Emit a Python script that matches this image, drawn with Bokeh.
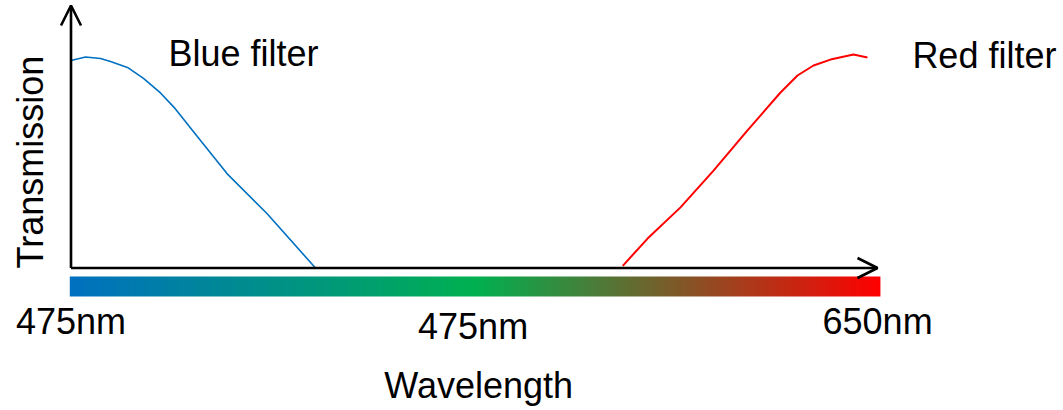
from bokeh.plotting import figure
from bokeh.models import Range1d, Arrow, OpenHead
from bokeh.core.properties import value
from bokeh.embed import file_html
from bokeh.resources import INLINE
import numpy as np

# ---- data (position along wavelength axis 0..100, transmission 0..100) ----
blue_x = [0, 1.79, 3.65, 4.88, 6.98, 8.96, 11.06, 12.71, 16.01, 19.31, 24.25, 30.22]
blue_y = [95.2, 96.8, 96.1, 94.7, 92.0, 87.0, 80.3, 73.8, 58.5, 43.2, 24.9, 0]
red_x = [68.2, 71.27, 75.34, 79.42, 83.62, 87.70, 89.80, 91.78, 93.88, 96.72, 98.45]
red_y = [1.0, 13.5, 27.8, 44.7, 63.1, 80.5, 88.3, 92.9, 95.6, 97.9, 96.6]

tick_pos = [0, 49.7, 99.7]
tick_labels = ["475nm", "475nm", "650nm"]
gradient_stops = [0, 50, 100]
gradient_colors = ["#0070C0", "#00B050", "#FF0000"]

W, H = 1063, 410
p = figure(width=W, height=H, output_backend="svg", toolbar_location=None,
           x_range=Range1d(-8.714, 122.68), y_range=Range1d(-65.37, 122.71),
           min_border=0, min_border_left=0, min_border_right=0,
           min_border_top=0, min_border_bottom=0)
p.axis.visible = False
p.grid.visible = False
p.outline_line_color = None
p.background_fill_color = "white"
p.border_fill_color = "white"

FONT = value("Liberation Sans")

# gradient bar (interpolated colour ramp drawn as an RGBA image)
def hex2rgb(h):
    h = h.lstrip("#")
    return [int(h[i:i + 2], 16) for i in (0, 2, 4)]

n = 800
pos = np.linspace(gradient_stops[0], gradient_stops[-1], n)
rgbs = np.array([hex2rgb(c) for c in gradient_colors], dtype=float)
img = np.empty((1, n), dtype=np.uint32)
view = img.view(dtype=np.uint8).reshape((1, n, 4))
for k in range(3):
    view[0, :, k] = np.round(np.interp(pos, gradient_stops, rgbs[:, k])).astype(np.uint8)
view[0, :, 3] = 255
p.image_rgba(image=[img], x=gradient_stops[0] - 0.15, y=-13.07,
             dw=gradient_stops[-1] - gradient_stops[0] + 0.2, dh=9.17)

# curves
p.line(blue_x, blue_y, line_color="#0070C0", line_width=1.6, line_join="round")
p.line(red_x, red_y, line_color="#FF0000", line_width=2, line_join="round")

# axes with arrows
p.add_layout(Arrow(end=OpenHead(size=20, line_width=2.6, line_color="black"),
                   x_start=0, y_start=0, x_end=0, y_end=120.4,
                   line_width=2.6, line_color="black"))
p.add_layout(Arrow(end=OpenHead(size=20, line_width=2.6, line_color="black"),
                   x_start=0, y_start=0, x_end=99.69, y_end=0,
                   line_width=2.6, line_color="black"))

# texts
p.text(x=[12.05], y=[98.2], text=["Blue filter"], text_font=FONT,
       text_font_size="36px", text_color="black", text_align="left",
       text_baseline="alphabetic")
p.text(x=[104.0], y=[97.7], text=["Red filter"], text_font=FONT,
       text_font_size="36px", text_color="black", text_align="left",
       text_baseline="alphabetic")
p.text(x=[-5.0], y=[48.6], text=["Transmission"], angle=np.pi / 2,
       text_font=FONT, text_font_size="36px", text_color="black",
       text_align="center", text_baseline="alphabetic")
p.text(x=tick_pos, y=[-24.7, -27.0, -24.7], text=tick_labels, text_font=FONT,
       text_font_size="36px", text_color="black", text_align="center",
       text_baseline="alphabetic")
p.text(x=[50.4], y=[-54.1], text=["Wavelength"], text_font=FONT,
       text_font_size="36px", text_color="black", text_align="center",
       text_baseline="alphabetic")

open("out.html", "w").write(file_html(p, INLINE))
